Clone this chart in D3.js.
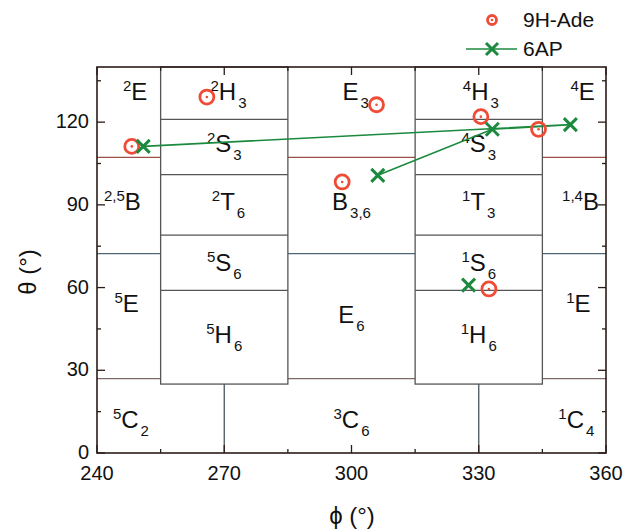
<!DOCTYPE html>
<html>
<head>
<meta charset="utf-8">
<script src="https://cdn.jsdelivr.net/npm/d3@7"></script>
<style>
  body { margin: 0; background: #fff; }
  text { font-family: "Liberation Sans", Arial, sans-serif; fill: #111; }
</style>
</head>
<body>
<script>
// 9H-Ade points
const adePhi   = [248.2, 265.9, 305.9, 297.8, 330.5, 344.1, 332.4];
const adeTheta = [111.2, 129.1, 126.3, 98.3, 122.0, 117.4, 59.5];

// 6AP points joined by the line, then the lone one
const apLinePhi   = [250.9, 351.6, 333.2, 306.2];
const apLineTheta = [111.2, 119.1, 117.4, 100.7];
const apLonePhi   = [327.6];
const apLoneTheta = [60.9];

// ring conformation boundaries
const boxCols = [[255, 285], [315, 345]];
const boxCuts = [121, 101, 79, 59];
const boxBottom = 25;
const bandTheta = [107.2, 72.3, 27.0];
const bandColor = ['#9c4f45', '#4f6878', '#7a6b66'];
const stemPhi = [270, 330];

// conformer labels
const labPhi   = [249, 271, 301, 330.5, 354.5, 270, 330, 246, 271, 300, 330, 354, 270, 330, 247, 270, 300, 330, 353.5, 248, 300, 353];
const labTheta = [128, 128, 128, 128, 128, 109, 109, 88, 88, 88, 88, 88, 66, 66, 51, 40, 47, 40, 51, 9, 9, 9];
const labSup   = ['2', '2', '', '4', '4', '2', '4', '2,5', '2', '', '1', '1,4', '5', '1', '5', '5', '', '1', '1', '5', '3', '1'];
const labMain  = ['E', 'H', 'E', 'H', 'E', 'S', 'S', 'B', 'T', 'B', 'T', 'B', 'S', 'S', 'E', 'H', 'E', 'H', 'E', 'C', 'C', 'C'];
const labSub   = ['', '3', '3', '3', '', '3', '3', '', '6', '3,6', '3', '', '6', '6', '', '6', '6', '6', '', '2', '6', '4'];

const xTicks = [240, 270, 300, 330, 360];
const yTicks = [0, 30, 60, 90, 120];

const width = 624, height = 529;
const margin = { top: 67, right: 18, bottom: 76, left: 97 };
const w = width - margin.left - margin.right;
const h = height - margin.top - margin.bottom;

const svg = d3.select('body').append('svg')
    .attr('width', width)
    .attr('height', height);

const g = svg.append('g')
    .attr('transform', `translate(${margin.left},${margin.top})`);

const x = d3.scaleLinear().domain([240, 360]).range([0, w]);
const y = d3.scaleLinear().domain([0, 140]).range([h, 0]);

// horizontal band lines, broken where the boxes sit
const gaps = [[240, boxCols[0][0]], [boxCols[0][1], boxCols[1][0]], [boxCols[1][1], 360]];
bandTheta.forEach((t, i) => {
    g.selectAll(null).data(gaps).enter().append('line')
        .attr('x1', d => x(d[0])).attr('x2', d => x(d[1]))
        .attr('y1', y(t)).attr('y2', y(t))
        .attr('stroke', bandColor[i]).attr('stroke-width', 1.3);
});

// stems below boxes
g.selectAll(null).data(stemPhi).enter().append('line')
    .attr('x1', d => x(d)).attr('x2', d => x(d))
    .attr('y1', y(0)).attr('y2', y(boxBottom))
    .attr('stroke', '#4a5660').attr('stroke-width', 1.3);

// the two box columns
boxCols.forEach(c => {
    g.append('rect')
        .attr('x', x(c[0])).attr('y', y(140))
        .attr('width', x(c[1]) - x(c[0]))
        .attr('height', y(boxBottom) - y(140))
        .attr('fill', 'none').attr('stroke', '#555').attr('stroke-width', 1.3);
    g.selectAll(null).data(boxCuts).enter().append('line')
        .attr('x1', x(c[0])).attr('x2', x(c[1]))
        .attr('y1', d => y(d)).attr('y2', d => y(d))
        .attr('stroke', '#555').attr('stroke-width', 1.3);
});

// labels
const lab = g.selectAll('.lab').data(labMain).enter().append('text')
    .attr('class', 'lab')
    .attr('x', (d, i) => x(labPhi[i]))
    .attr('y', (d, i) => y(labTheta[i]))
    .attr('text-anchor', 'middle');
lab.each(function (d, i) {
    const t = d3.select(this);
    if (labSup[i]) t.append('tspan').attr('font-size', 15).attr('dy', -9).text(labSup[i]);
    t.append('tspan').attr('font-size', 24).attr('dy', labSup[i] ? 9 : 0).text(d);
    if (labSub[i]) t.append('tspan').attr('font-size', 15).attr('dy', 8).attr('dx', 2).text(labSub[i]);
});

// axes with inward ticks
const xMinor = d3.range(240, 361, 15);
const yMinor = d3.range(0, 141, 15);
function addTicks(axisG, vals, major, len, pos, vertical, dir) {
    axisG.selectAll(null).data(vals).enter().append('line')
        .attr(vertical ? 'y1' : 'x1', d => pos(d))
        .attr(vertical ? 'y2' : 'x2', d => pos(d))
        .attr(vertical ? 'x1' : 'y1', 0)
        .attr(vertical ? 'x2' : 'y2', d => dir * (major.includes(d) ? len : len / 2))
        .attr('stroke', '#2a1c18').attr('stroke-width', 1.3);
}
const axBottom = g.append('g').attr('transform', `translate(0,${h})`);
addTicks(axBottom, xMinor, xTicks, 8, x, false, -1);
const axTop = g.append('g');
addTicks(axTop, xMinor, xTicks, 8, x, false, 1);
const axLeft = g.append('g');
addTicks(axLeft, yMinor, yTicks, 8, y, true, 1);
const axRight = g.append('g').attr('transform', `translate(${w},0)`);
addTicks(axRight, yMinor, yTicks, 8, y, true, -1);

g.append('rect')
    .attr('width', w).attr('height', h)
    .attr('fill', 'none').attr('stroke', '#2a1c18').attr('stroke-width', 1.6);

g.selectAll('.xl').data(xTicks).enter().append('text')
    .attr('x', d => x(d)).attr('y', h + 27)
    .attr('text-anchor', 'middle').attr('font-size', 20)
    .text(d => d);
g.selectAll('.yl').data(yTicks).enter().append('text')
    .attr('x', -8).attr('y', d => y(d) + 6)
    .attr('text-anchor', 'end').attr('font-size', 20)
    .text(d => d);

// axis titles
svg.append('text')
    .attr('x', 352).attr('y', 524)
    .attr('text-anchor', 'middle').attr('font-size', 24)
    .text('\u03d5 (\u00b0)');
svg.append('text')
    .attr('transform', 'translate(36,272) rotate(-90)')
    .attr('text-anchor', 'middle').attr('font-size', 24)
    .text('\u03b8 (\u00b0)');

// 6AP line and markers
const red = '#f04b36', green = '#1b8a3e';
const line = d3.line().x(d => x(d[0])).y(d => y(d[1]));
g.append('path')
    .datum(d3.zip(apLinePhi, apLineTheta))
    .attr('d', line)
    .attr('fill', 'none').attr('stroke', green).attr('stroke-width', 1.6);

function cross(sel, cx, cy, s) {
    sel.append('path')
        .attr('d', `M${cx - s},${cy - s}L${cx + s},${cy + s}M${cx - s},${cy + s}L${cx + s},${cy - s}`)
        .attr('stroke', green).attr('stroke-width', 3).attr('fill', 'none');
}
function ring(sel, cx, cy, r) {
    sel.append('circle').attr('cx', cx).attr('cy', cy).attr('r', r)
        .attr('fill', 'none').attr('stroke', red).attr('stroke-width', 2.8);
    sel.append('circle').attr('cx', cx).attr('cy', cy).attr('r', 1.3).attr('fill', red);
}

adePhi.forEach((p, i) => ring(g, x(p), y(adeTheta[i]), 7));
apLinePhi.forEach((p, i) => cross(g, x(p), y(apLineTheta[i]), 6.5));
apLonePhi.forEach((p, i) => cross(g, x(p), y(apLoneTheta[i]), 6.5));

// legend
const lg = svg.append('g');
ring(lg, 492, 20, 4.5);
lg.append('text').attr('x', 523).attr('y', 27).attr('font-size', 21).text('9H-Ade');
lg.append('line').attr('x1', 466).attr('x2', 517).attr('y1', 49).attr('y2', 49)
    .attr('stroke', green).attr('stroke-width', 1.6);
cross(lg, 492, 49, 6);
lg.append('text').attr('x', 523).attr('y', 56).attr('font-size', 21).text('6AP');
</script>
</body>
</html>
